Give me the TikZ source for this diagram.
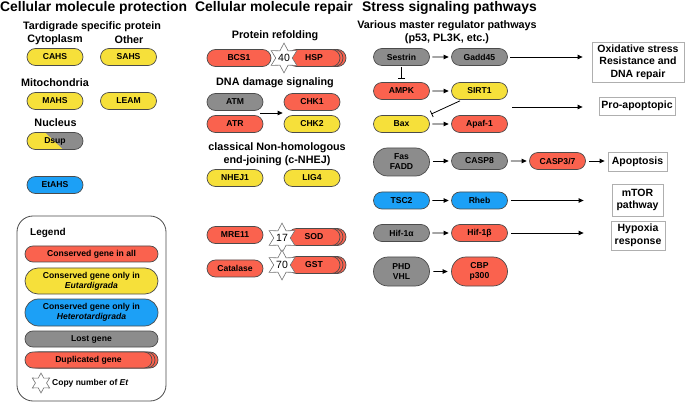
\documentclass[tikz,border=0pt]{standalone}
\usepackage{fontspec}
\setmainfont{Liberation Sans}
\usetikzlibrary{shapes.misc,shapes.geometric,arrows.meta,shadows,calc}
\definecolor{cred}{RGB}{250,98,78}
\definecolor{cyel}{RGB}{246,224,58}
\definecolor{cblue}{RGB}{28,160,246}
\definecolor{cgray}{RGB}{140,140,140}
\definecolor{cbord}{RGB}{75,75,75}
\definecolor{cbox}{RGB}{175,175,175}
\begin{document}
\begin{tikzpicture}[x=1pt,y=-1pt,
 pill/.style={rounded rectangle, draw=cbord, line width=0.7pt, minimum width=56pt, minimum height=17pt, inner sep=0pt, font=\fontsize{8.6}{10}\selectfont\bfseries, align=center},
 tall/.style={minimum height=28pt},
 dup/.style={double copy shadow={shadow xshift=3pt, shadow yshift=0pt, fill=cred, draw=cbord, line width=0.7pt}},
 cnstar/.style={star, star points=6, star point ratio=1.8, minimum size=27pt, inner sep=0pt, draw=cbord!80, fill=white, line width=0.6pt, font=\fontsize{10.5}{10.5}\selectfont},
 title/.style={anchor=base west, inner sep=0pt, font=\fontsize{13.9}{15}\selectfont\bfseries},
 lbl/.style={inner sep=0pt, font=\fontsize{10.8}{13}\selectfont\bfseries, align=center},
 outbox/.style={draw=cbox, line width=0.8pt, fill=white, font=\fontsize{10.5}{12.5}\selectfont\bfseries, align=center, inner sep=0pt},
 arr/.style={-{Triangle[length=5pt,width=4.5pt]}, line width=0.8pt},
 inh/.style={-{Bar[width=7pt]}, line width=0.8pt}
]
\useasboundingbox (0,0) rectangle (685,403);

% titles
\node[title] (t1) at (0,12) {Cellular molecule protection};
\node[title] (t2) at (195,12) {Cellular molecule repair};
\node[title] (t3) at (362,12) {Stress signaling pathways};

% column 1
\node[lbl] (tsp) at (92,27) {Tardigrade specific protein};
\node[lbl] (cyto) at (55,40) {Cytoplasm};
\node[lbl] (other) at (129,40) {Other};
\node[pill,fill=cyel] (cahs) at (55,57) {CAHS};
\node[pill,fill=cyel] (sahs) at (128.5,57) {SAHS};
\node[lbl] (mito) at (55,83) {Mitochondria};
\node[pill,fill=cyel] (mahs) at (55,101) {MAHS};
\node[pill,fill=cyel] (leam) at (128.5,101) {LEAM};
\node[lbl] (nuc) at (55.5,123) {Nucleus};
\node[pill,fill=cgray, path picture={\fill[cyel] ([xshift=-10pt]path picture bounding box.north) -- (path picture bounding box.north west) -- (path picture bounding box.south west) -- ([xshift=8pt]path picture bounding box.south) -- cycle;}] (dsup) at (55,141) {Dsup};
\node[pill,fill=cblue] (etahs) at (55,185) {EtAHS};

% legend
\node[draw=cbord, line width=0.8pt, rounded corners=16pt, minimum width=149pt, minimum height=185pt, inner sep=0pt] (legend) at (91.5,308.5) {};
\node[anchor=west, inner sep=0pt, font=\fontsize{10}{12}\selectfont\bfseries] (legt) at (30,233) {Legend};
\node[pill,fill=cred, minimum width=133pt, minimum height=16pt] (lall) at (91.5,254) {Conserved gene in all};
\node[pill,fill=cyel, minimum width=133pt, minimum height=26pt] (leut) at (91.5,281) {Conserved gene only in\\\textit{Eutardigrada}};
\node[pill,fill=cblue, minimum width=133pt, minimum height=27pt] (lhet) at (91.5,312.5) {Conserved gene only in\\\textit{Heterotardigrada}};
\node[pill,fill=cgray, minimum width=133pt, minimum height=16pt] (llost) at (91.5,339) {Lost gene};
\node[pill,fill=cred, dup, minimum width=127pt, minimum height=16pt] (ldup) at (88.5,360) {Duplicated gene};
\node[cnstar, minimum size=20pt] (lstar) at (41,383) {};
\node[anchor=west, inner sep=0pt, font=\fontsize{8.5}{10}\selectfont\bfseries] (lcopy) at (52,383) {Copy number of \textit{Et}};

% column 2
\node[lbl] (pref) at (275,36) {Protein refolding};
\node[pill,fill=cred, minimum width=64pt] (bcs1) at (239,58) {BCS1};
\node[pill,fill=cred, dup, minimum width=52pt] (hsp) at (314,58) {HSP};
\node[cnstar, minimum size=28pt] (s40) at (284,58) {40};
\node[lbl] (dds) at (275,83) {DNA damage signaling};
\node[pill,fill=cgray] (atm) at (235,102) {ATM};
\node[pill,fill=cred] (atr) at (235,124) {ATR};
\node[pill,fill=cred] (chk1) at (312,102) {CHK1};
\node[pill,fill=cyel] (chk2) at (312,124) {CHK2};
\draw[arr, shorten >=1pt] ($(atm.east)!0.5!(atr.east)+(-3,0)$) -- ($(chk1.west)!0.5!(chk2.west)$);
\node[lbl] (nhej) at (277,154) {classical Non-homologous\\end-joining (c-NHEJ)};
\node[pill,fill=cyel] (nhej1) at (235,178) {NHEJ1};
\node[pill,fill=cyel] (lig4) at (312,178) {LIG4};
\node[pill,fill=cred] (mre11) at (235,235) {MRE11};
\node[pill,fill=cred] (cat) at (235,268.5) {Catalase};
\node[pill,fill=cred, dup, minimum width=52pt] (sod) at (314,237) {SOD};
\node[cnstar] (s17) at (282,238) {17};
\node[pill,fill=cred, dup, minimum width=52pt] (gst) at (314,265) {GST};
\node[cnstar] (s70) at (282,265) {70};

% column 3
\node[lbl] (vmr) at (447,32.5) {Various master regulator pathways\\(p53, PL3K, etc.)};
\node[pill,fill=cgray] (sest) at (401.5,57) {Sestrin};
\node[pill,fill=cgray] (gadd) at (479.5,57) {Gadd45};
\node[pill,fill=cred] (ampk) at (401.5,91) {AMPK};
\node[pill,fill=cyel] (sirt) at (479.5,91) {SIRT1};
\node[pill,fill=cyel] (bax) at (401.5,124) {Bax};
\node[pill,fill=cred] (apaf) at (479.5,124) {Apaf-1};
\node[pill,fill=cgray,tall] (fas) at (401.5,162) {Fas\\FADD};
\node[pill,fill=cgray] (casp8) at (479.5,161) {CASP8};
\node[pill,fill=cred] (casp3) at (557.5,161) {CASP3/7};
\node[pill,fill=cblue] (tsc2) at (401.5,200.5) {TSC2};
\node[pill,fill=cblue] (rheb) at (479.5,200.5) {Rheb};
\node[pill,fill=cgray] (hifa) at (401.5,233) {Hif-1α};
\node[pill,fill=cred] (hifb) at (479.5,233) {Hif-1β};
\node[pill,fill=cgray,minimum height=29pt] (phd) at (401.5,271.5) {PHD\\VHL};
\node[pill,fill=cred,minimum height=29pt] (cbp) at (479.5,271.5) {CBP\\p300};

\node[outbox, minimum width=92pt, minimum height=40pt] (ox) at (638,62) {Oxidative stress\\Resistance and\\DNA repair};
\node[outbox, minimum width=76pt, minimum height=18pt] (pap) at (637,106) {Pro-apoptopic};
\node[outbox, minimum width=59pt, minimum height=19pt] (apo) at (637.5,162) {Apoptosis};
\node[outbox, minimum width=51pt, minimum height=32pt] (mtor) at (637.5,200) {mTOR\\pathway};
\node[outbox, minimum width=54pt, minimum height=29pt] (hyp) at (638,235.5) {Hypoxia\\response};

\draw[arr, shorten <=2.5pt, shorten >=2.5pt] (sest) -- (gadd);
\draw[arr, shorten <=2.5pt, shorten >=9pt] (gadd.east) -- (gadd.east -| ox.west);
\draw[inh, shorten <=1.5pt, shorten >=3.5pt] (sest.south) -- (ampk.north);
\draw[arr, shorten <=2.5pt, shorten >=2.5pt] (ampk) -- (sirt);
\draw[inh] ($(sirt.south)+(-19.5,1)$) -- ($(bax.east)+(1.5,-10)$);
\coordinate (papS) at (512,107);
\draw[arr, shorten >=16pt] (papS) -- (papS -| pap.west);
\draw[arr, shorten <=2.5pt, shorten >=2.5pt] (bax) -- (apaf);
\draw[arr, shorten <=3pt, shorten >=2.5pt] (fas.east |- casp8.east) -- (casp8.west);
\draw[arr, shorten <=3pt, shorten >=2.5pt] (casp8) -- (casp3);
\draw[arr, shorten <=3.5pt, shorten >=3pt] (casp3.east) -- (apo.west |- casp3.east);
\draw[arr, shorten <=2.5pt, shorten >=2.5pt] (tsc2) -- (rheb);
\draw[arr, shorten <=3.5pt, shorten >=28pt] (rheb.east) -- (rheb.east -| mtor.west);
\draw[arr, shorten <=2.5pt, shorten >=2.5pt] (hifa) -- (hifb);
\draw[arr, shorten <=3.5pt, shorten >=27pt] (hifb.east) -- (hifb.east -| hyp.west);
\draw[arr, shorten <=3.5pt, shorten >=3.5pt] (phd) -- (cbp);
\end{tikzpicture}
\end{document}
